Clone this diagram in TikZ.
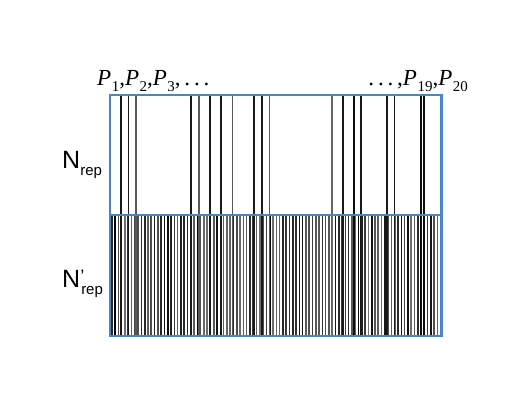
\documentclass[tikz,border=0pt]{standalone}
\usepackage{fontspec}
\setmainfont{Liberation Serif}
\setsansfont{Liberation Sans}
\definecolor{boxblue}{RGB}{74,134,196}
\newcommand{\psub}[1]{\textit{P}\kern0.5pt\raisebox{-0.28em}{\fontsize{15}{16}\selectfont #1}}
\tikzset{
  frame/.style={draw=boxblue, line width=2.6pt},
  topline/.style={line width=1.6pt},
  denseline/.style={line width=1.6pt},
  plabel/.style={font=\fontsize{23}{25}\selectfont, inner sep=0pt},
  nlabel/.style={font=\sffamily\fontsize{25}{27}\selectfont, inner sep=0pt}
}
\begin{document}
\begin{tikzpicture}[x=1pt,y=-1pt]
\useasboundingbox (0,0) rectangle (529,409);
% dense lines in lower half
\pgfmathsetseed{11}
\foreach \i in {0,...,99}{
  \pgfmathsetmacro{\xx}{111.8+\i*3.29}
  \pgfmathsetmacro{\gg}{round(55+45*rnd)}
  \draw[denseline, black!\gg] (\xx,215) -- (\xx,336);
}
% tall lines through both halves
\foreach \x/\g in {120.7/90,128.3/90,136/65,191/90,199/65,210/90,221/90,232.3/65,254/90,261.7/90,269.3/65,331.7/60,342.7/90,354/95,361/90,386.7/90,394.3/90,420.7/95,424/95}{
  \draw[topline, black!\g] (\x,95) -- (\x,336);
}
% frame
\draw[frame] (110,95) rectangle (441.5,336);
\draw[frame] (110,215) -- (441.5,215);
% labels
\node[plabel, anchor=base west] (pleft) at (97,85) {\psub{1},\psub{2},\psub{3},\,.\,.\,.};
\node[plabel, anchor=base east] (pright) at (468,85) {.\,.\,.\,,\psub{19},\psub{20}};
\node[nlabel, anchor=base west] (nrep) at (62,168) {N\raisebox{-0.28em}{\fontsize{15}{16}\selectfont rep}};
\node[nlabel, anchor=base west] (nrepp) at (62,287) {N\raisebox{0.2em}{\fontsize{18}{18}\selectfont ’}\kern-3pt\raisebox{-0.28em}{\fontsize{15}{16}\selectfont rep}};
\end{tikzpicture}
\end{document}
